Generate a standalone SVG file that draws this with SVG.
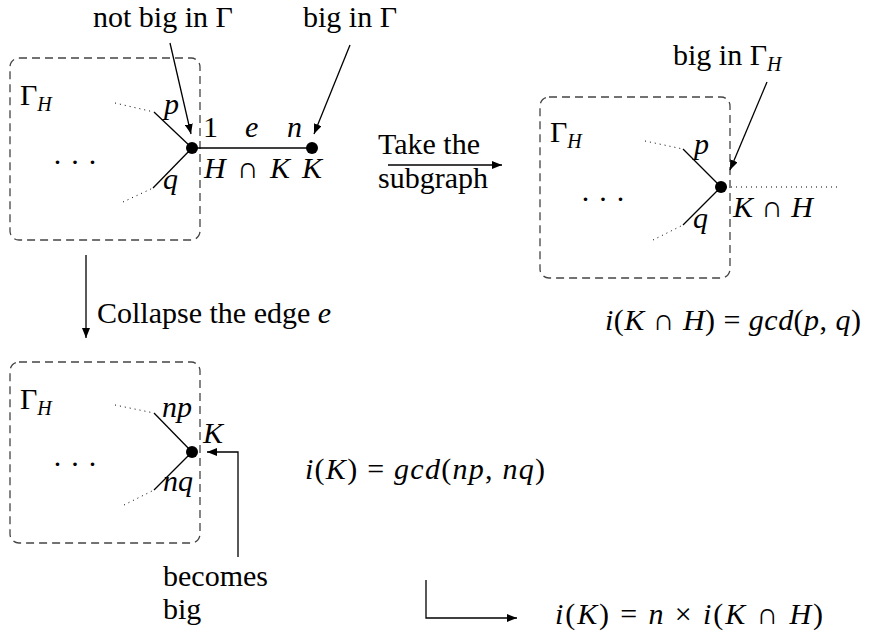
<svg xmlns="http://www.w3.org/2000/svg" width="869" height="637" viewBox="0 0 869 637" font-family="'Liberation Serif', 'DejaVu Serif', serif">
<defs>
<marker id="ah" viewBox="0 0 10 8" refX="10" refY="4" markerWidth="10" markerHeight="8" markerUnits="userSpaceOnUse" orient="auto">
<path d="M0,0 L10,4 L0,8 z" fill="#000"/>
</marker>
<style>
text{font-family:'Liberation Serif','DejaVu Serif',serif;font-size:30px;fill:#000}
.it{font-style:italic}
.sub{font-style:italic;font-size:20px}
.sm{font-size:28px}
.box{fill:none;stroke:#444;stroke-width:1.3;stroke-dasharray:8 5}
.edge{stroke:#000;stroke-width:1.3;fill:none}
.dot{stroke:#000;stroke-width:1;stroke-dasharray:1 4;fill:none}
.arr{stroke:#000;stroke-width:1.3;fill:none;marker-end:url(#ah)}
.node{fill:#000}
</style>
</defs>

<g id="graph-top">
<rect class="box" x="10" y="58" width="190" height="182" rx="9"/>
<text x="20" y="105">Γ<tspan class="sub" dy="6">H</tspan></text>
<text x="75" y="172" text-anchor="middle">· · ·</text>
<path class="dot" d="M115,103 L154,112"/>
<path class="edge" d="M154,112 L192,148"/>
<path class="dot" d="M123,202 L153,188"/>
<path class="edge" d="M153,188 L192,148"/>
<text class="it" x="164" y="114">p</text>
<text class="it" x="163" y="189">q</text>
<path class="edge" d="M192,148 L312,148"/>
<circle class="node" cx="192" cy="148" r="6"/>
<circle class="node" cx="312" cy="148" r="6"/>
<text x="203" y="137">1</text>
<text class="it" x="245" y="137">e</text>
<text class="it" x="287" y="137">n</text>
<text x="204" y="178" textLength="86" lengthAdjust="spacing"><tspan class="it">H</tspan> ∩ <tspan class="it">K</tspan></text>
<text class="it" x="302" y="178">K</text>
</g>

<g id="graph-right">
<rect class="box" x="540" y="97" width="190" height="181" rx="9"/>
<text x="550" y="142">Γ<tspan class="sub" dy="6">H</tspan></text>
<text x="603" y="209" text-anchor="middle">· · ·</text>
<path class="dot" d="M645,141 L683,149"/>
<path class="edge" d="M683,149 L721,187"/>
<path class="dot" d="M653,240 L683,225"/>
<path class="edge" d="M683,225 L721,187"/>
<path class="dot" d="M721,187 L838,187"/>
<circle class="node" cx="721" cy="187" r="6"/>
<text class="it" x="694" y="154">p</text>
<text class="it" x="693" y="228">q</text>
<text x="733" y="217" textLength="80" lengthAdjust="spacing"><tspan class="it">K</tspan> ∩ <tspan class="it">H</tspan></text>
</g>

<g id="graph-bottom">
<rect class="box" x="10" y="362" width="190" height="181" rx="9"/>
<text x="20" y="409">Γ<tspan class="sub" dy="6">H</tspan></text>
<text x="75" y="474" text-anchor="middle">· · ·</text>
<path class="dot" d="M115,405 L154,413"/>
<path class="edge" d="M154,413 L192,452"/>
<path class="dot" d="M124,505 L154,490"/>
<path class="edge" d="M154,490 L192,452"/>
<circle class="node" cx="192" cy="452" r="6"/>
<text class="it" x="162" y="417">np</text>
<text class="it" x="163" y="491">nq</text>
<text class="it" x="203" y="443">K</text>
</g>

<g id="labels">
<text x="93" y="27">not big in Γ</text>
<text x="303" y="27">big in Γ</text>
<text x="673" y="65">big in Γ<tspan class="sub" dy="6">H</tspan></text>
<text x="378" y="154">Take the</text>
<text x="378" y="188">subgraph</text>
<text x="97" y="323">Collapse the edge <tspan class="it">e</tspan></text>
<text x="163" y="586">becomes</text>
<text x="163" y="619">big</text>
<text x="605" y="330" textLength="256" lengthAdjust="spacing"><tspan class="it">i</tspan>(<tspan class="it">K</tspan> ∩ <tspan class="it">H</tspan>) = <tspan class="it">gcd</tspan>(<tspan class="it">p</tspan>, <tspan class="it">q</tspan>)</text>
<text x="305" y="479" textLength="240" lengthAdjust="spacing"><tspan class="it">i</tspan>(<tspan class="it">K</tspan>) = <tspan class="it">gcd</tspan>(<tspan class="it">np</tspan>, <tspan class="it">nq</tspan>)</text>
<text x="555" y="624" textLength="268" lengthAdjust="spacing"><tspan class="it">i</tspan>(<tspan class="it">K</tspan>) = <tspan class="it">n</tspan> × <tspan class="it">i</tspan>(<tspan class="it">K</tspan> ∩ <tspan class="it">H</tspan>)</text>
</g>

<g id="connectors">
<path class="arr" d="M170,43 L191,134"/>
<path class="arr" d="M350,45 L314,134"/>
<path class="arr" d="M388,165 L502,165"/>
<path class="arr" d="M767,82 L730,170"/>
<path class="arr" d="M86,255 L86,338"/>
<path class="arr" d="M238,557 L238,452 L207,452"/>
<path class="arr" d="M426,580 L426,618 L517,618"/>
</g>
</svg>
